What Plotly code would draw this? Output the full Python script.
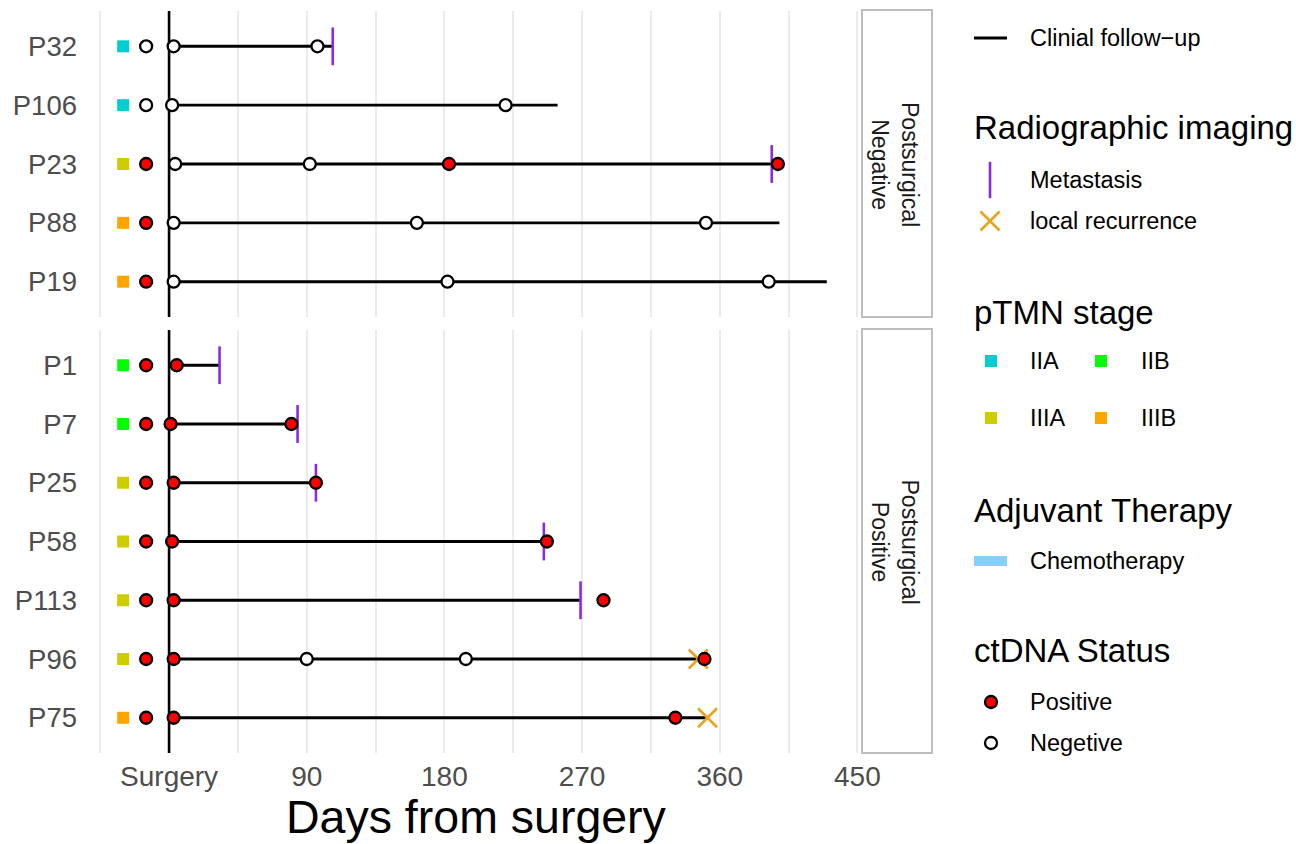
import plotly.graph_objects as go

W, H = 1296, 844
FONT = "Liberation Sans, Arial, Helvetica, sans-serif"

# ---------------------------------------------------------------- data
patients = ["P32", "P106", "P23", "P88", "P19",
            "P1", "P7", "P25", "P58", "P113", "P96", "P75"]
facet = ["neg"] * 5 + ["pos"] * 7
stage = ["IIA", "IIA", "IIIA", "IIIB", "IIIB",
         "IIB", "IIB", "IIIA", "IIIA", "IIIA", "IIIA", "IIIB"]
baseline_ctdna = ["Negative", "Negative", "Positive", "Positive", "Positive",
                  "Positive", "Positive", "Positive", "Positive", "Positive", "Positive", "Positive"]
followup_end = [107, 254, 398, 399, 430, 33, 84, 96, 245, 269, 350, 352]
ctdna_days = [[3, 97], [2, 220], [4, 92, 183, 398], [3, 162, 351], [3, 182, 392],
              [5], [1, 80], [3, 96], [2, 247], [3, 284], [3, 90, 194, 350], [3, 331]]
ctdna_result = [
    ["Negative", "Negative"],
    ["Negative", "Negative"],
    ["Negative", "Negative", "Positive", "Positive"],
    ["Negative", "Negative", "Negative"],
    ["Negative", "Negative", "Negative"],
    ["Positive"],
    ["Positive", "Positive"],
    ["Positive", "Positive"],
    ["Positive", "Positive"],
    ["Positive", "Positive"],
    ["Positive", "Negative", "Negative", "Positive"],
    ["Positive", "Positive"],
]
metastasis_day = [107, None, 394, None, None, 33, 84, 96, 245, 269, None, None]
recurrence_day = [None, None, None, None, None, None, None, None, None, None, 346, 352]

x_ticks = [-45, 0, 45, 90, 135, 180, 225, 270, 315, 360, 405, 450]
x_labels = ["", "Surgery", "", "90", "", "180", "", "270", "", "360", "", "450"]

# columns left of surgery used for stage and pre-surgery ctDNA
STAGE_DAY = -30
BASELINE_DAY = -15
SURGERY_DAY = 0

stage_colors = {"IIA": "#00CED1", "IIB": "#00FF00", "IIIA": "#CDCD00", "IIIB": "#FFA500"}
ctdna_fill = {"Positive": "#FF0000", "Negative": "#FFFFFF"}
MET_COLOR = "#8A2BE2"
REC_COLOR = "#E8A41C"
CHEMO_COLOR = "#87CEFA"

facets = [("neg", "Postsurgical<br>Negative", "x", "y"),
          ("pos", "Postsurgical<br>Positive", "x2", "y2")]

fig = go.Figure()

for key, label, xa, ya in facets:
    idx = [i for i, f in enumerate(facet) if f == key]
    rows = {i: r for r, i in enumerate(idx)}
    n = len(idx)

    # surgery reference line across the panel
    fig.add_trace(go.Scatter(x=[SURGERY_DAY, SURGERY_DAY], y=[-0.6, n - 0.4], mode="lines",
                             xaxis=xa, yaxis=ya, line=dict(color="black", width=2.6),
                             showlegend=False, hoverinfo="skip"))

    # clinical follow-up lines
    lx, ly = [], []
    for i in idx:
        lx += [SURGERY_DAY, followup_end[i], None]
        ly += [rows[i], rows[i], None]
    fig.add_trace(go.Scatter(x=lx, y=ly, mode="lines", xaxis=xa, yaxis=ya,
                             line=dict(color="black", width=2.9), showlegend=False,
                             hoverinfo="skip"))

    # metastasis ticks
    mi = [i for i in idx if metastasis_day[i] is not None]
    fig.add_trace(go.Scatter(x=[metastasis_day[i] for i in mi], y=[rows[i] for i in mi],
                             mode="markers", xaxis=xa, yaxis=ya, showlegend=False,
                             marker=dict(symbol="line-ns", size=27,
                                         line=dict(color=MET_COLOR, width=2.6))))

    # local recurrence
    ri = [i for i in idx if recurrence_day[i] is not None]
    if ri:
        fig.add_trace(go.Scatter(x=[recurrence_day[i] for i in ri], y=[rows[i] for i in ri],
                                 mode="markers", xaxis=xa, yaxis=ya, showlegend=False,
                                 marker=dict(symbol="x-thin", size=19,
                                             line=dict(color=REC_COLOR, width=2.6))))

    # stage squares
    fig.add_trace(go.Scatter(x=[STAGE_DAY] * n, y=[rows[i] for i in idx],
                             mode="markers", xaxis=xa, yaxis=ya, showlegend=False,
                             marker=dict(symbol="square", size=12,
                                         color=[stage_colors[stage[i]] for i in idx])))

    # ctDNA results (pre-surgery + follow-up draws)
    cx, cy, cc = [], [], []
    for i in idx:
        cx.append(BASELINE_DAY)
        cy.append(rows[i])
        cc.append(ctdna_fill[baseline_ctdna[i]])
        for d, s in zip(ctdna_days[i], ctdna_result[i]):
            cx.append(d)
            cy.append(rows[i])
            cc.append(ctdna_fill[s])
    fig.add_trace(go.Scatter(x=cx, y=cy, mode="markers", xaxis=xa, yaxis=ya, showlegend=False,
                             marker=dict(symbol="circle", size=12, color=cc,
                                         line=dict(color="black", width=2.3))))

# ---------------------------------------------------------------- layout geometry (pixels)
PANEL_L, PANEL_R = 88, 862
TOP_T, TOP_B = 11, 317
BOT_T, BOT_B = 330, 753
STRIP_L, STRIP_R = 862, 932


def px_x(v):
    return v / W


def px_y(v):
    return 1 - v / H


n_top = facet.count("neg")
n_bot = facet.count("pos")

xaxis_common = dict(range=[-53, 453], domain=[px_x(PANEL_L), px_x(PANEL_R)],
                    tickvals=x_ticks, ticktext=x_labels, showgrid=True,
                    gridcolor="#EBEBEB", gridwidth=1.6, zeroline=False, showline=False,
                    ticks="", fixedrange=True, automargin=False,
                    tickfont=dict(family=FONT, size=28, color="#4D4D4D"))

yaxis_common = dict(showgrid=False, zeroline=False, showline=False, ticks="",
                    ticklabelstandoff=10, fixedrange=True, automargin=False,
                    tickfont=dict(family=FONT, size=27.5, color="#4D4D4D"))

top_names = [p for p, f in zip(patients, facet) if f == "neg"]
bot_names = [p for p, f in zip(patients, facet) if f == "pos"]

fig.update_layout(
    template="none",
    width=W, height=H, autosize=False,
    margin=dict(l=0, r=0, t=0, b=0, pad=0),
    paper_bgcolor="white", plot_bgcolor="rgba(0,0,0,0)",
    showlegend=False,
    xaxis=dict(**xaxis_common, anchor="y", showticklabels=False),
    xaxis2=dict(**xaxis_common, anchor="y2", matches="x", showticklabels=True,
                ticklabelstandoff=4),
    yaxis=dict(**yaxis_common, anchor="x", domain=[px_y(TOP_B), px_y(TOP_T)],
               range=[n_top - 0.4, -0.6], tickvals=list(range(n_top)), ticktext=top_names),
    yaxis2=dict(**yaxis_common, anchor="x2", domain=[px_y(BOT_B), px_y(BOT_T)],
                range=[n_bot - 0.4, -0.6], tickvals=list(range(n_bot)), ticktext=bot_names),
    # pixel-space overlay used for the legend block
    xaxis3=dict(domain=[0, 1], range=[0, W], visible=False, fixedrange=True, anchor="y3",
                automargin=False),
    yaxis3=dict(domain=[0, 1], range=[H, 0], visible=False, fixedrange=True, anchor="x3",
                automargin=False),
)

shapes = []
annotations = []

# facet strips
for (key, label, xa, ya), (t, b) in zip(facets, [(TOP_T, TOP_B), (BOT_T, BOT_B)]):
    shapes.append(dict(type="rect", xref="paper", yref="paper",
                       x0=px_x(STRIP_L), x1=px_x(STRIP_R), y0=px_y(b), y1=px_y(t - 1),
                       line=dict(color="#BEBEBE", width=2), fillcolor="white"))
    annotations.append(dict(xref="paper", yref="paper",
                            x=px_x((STRIP_L + STRIP_R) / 2 - 2), y=px_y((t + b) / 2),
                            xanchor="center", yanchor="middle",
                            text=label, textangle=90, showarrow=False,
                            font=dict(family=FONT, size=23, color="#1A1A1A")))

# x axis title
annotations.append(dict(xref="paper", yref="paper", x=px_x(476), y=px_y(817),
                        text="Days from surgery", showarrow=False,
                        xanchor="center", yanchor="middle",
                        font=dict(family=FONT, size=46.5, color="black")))

# ---------------------------------------------------------------- legend block
GLYPH_X, TEXT_X, TITLE_X = 990, 1028, 972
ITEM_FONT = dict(family=FONT, size=23.5, color="black")
TITLE_FONT = dict(family=FONT, size=33, color="black")

legend_titles = [("Radiographic imaging", 127), ("pTMN stage", 312),
                 ("Adjuvant Therapy", 510), ("ctDNA Status", 650)]
for t, yy in legend_titles:
    annotations.append(dict(xref="x3", yref="y3", x=TITLE_X, y=yy, text=t, showarrow=False,
                            xanchor="left", yanchor="middle", font=TITLE_FONT))

legend_items = [("Clinial follow\u2212up", TEXT_X, 38), ("Metastasis", TEXT_X, 180),
                ("local recurrence", TEXT_X, 221),
                ("IIA", TEXT_X, 361), ("IIB", 1139, 361), ("IIIA", TEXT_X, 418), ("IIIB", 1139, 418),
                ("Chemotherapy", TEXT_X, 561), ("Positive", TEXT_X, 702), ("Negetive", TEXT_X, 743)]
for t, xx, yy in legend_items:
    annotations.append(dict(xref="x3", yref="y3", x=xx, y=yy, text=t, showarrow=False,
                            xanchor="left", yanchor="middle", font=ITEM_FONT))

# legend glyphs
fig.add_trace(go.Scatter(x=[974, 1007], y=[38, 38], mode="lines", xaxis="x3", yaxis="y3",
                         line=dict(color="black", width=2.9), showlegend=False, hoverinfo="skip"))
fig.add_trace(go.Scatter(x=[974, 1007], y=[561, 561], mode="lines", xaxis="x3", yaxis="y3",
                         line=dict(color=CHEMO_COLOR, width=10), showlegend=False, hoverinfo="skip"))
fig.add_trace(go.Scatter(x=[GLYPH_X], y=[180], mode="markers", xaxis="x3", yaxis="y3",
                         showlegend=False, hoverinfo="skip",
                         marker=dict(symbol="line-ns", size=26, line=dict(color=MET_COLOR, width=2.6))))
fig.add_trace(go.Scatter(x=[GLYPH_X], y=[221], mode="markers", xaxis="x3", yaxis="y3",
                         showlegend=False, hoverinfo="skip",
                         marker=dict(symbol="x-thin", size=19, line=dict(color=REC_COLOR, width=2.6))))
stage_legend = [("IIA", 991, 361), ("IIB", 1101, 361), ("IIIA", 991, 418), ("IIIB", 1101, 418)]
fig.add_trace(go.Scatter(x=[s[1] for s in stage_legend], y=[s[2] for s in stage_legend],
                         mode="markers", xaxis="x3", yaxis="y3", showlegend=False, hoverinfo="skip",
                         marker=dict(symbol="square", size=12,
                                     color=[stage_colors[s[0]] for s in stage_legend])))
fig.add_trace(go.Scatter(x=[991, 991], y=[702, 743], mode="markers", xaxis="x3", yaxis="y3",
                         showlegend=False, hoverinfo="skip",
                         marker=dict(symbol="circle", size=12,
                                     color=[ctdna_fill["Positive"], ctdna_fill["Negative"]],
                                     line=dict(color="black", width=2.3))))

fig.update_layout(shapes=shapes, annotations=annotations)

fig.write_html("out.html")
